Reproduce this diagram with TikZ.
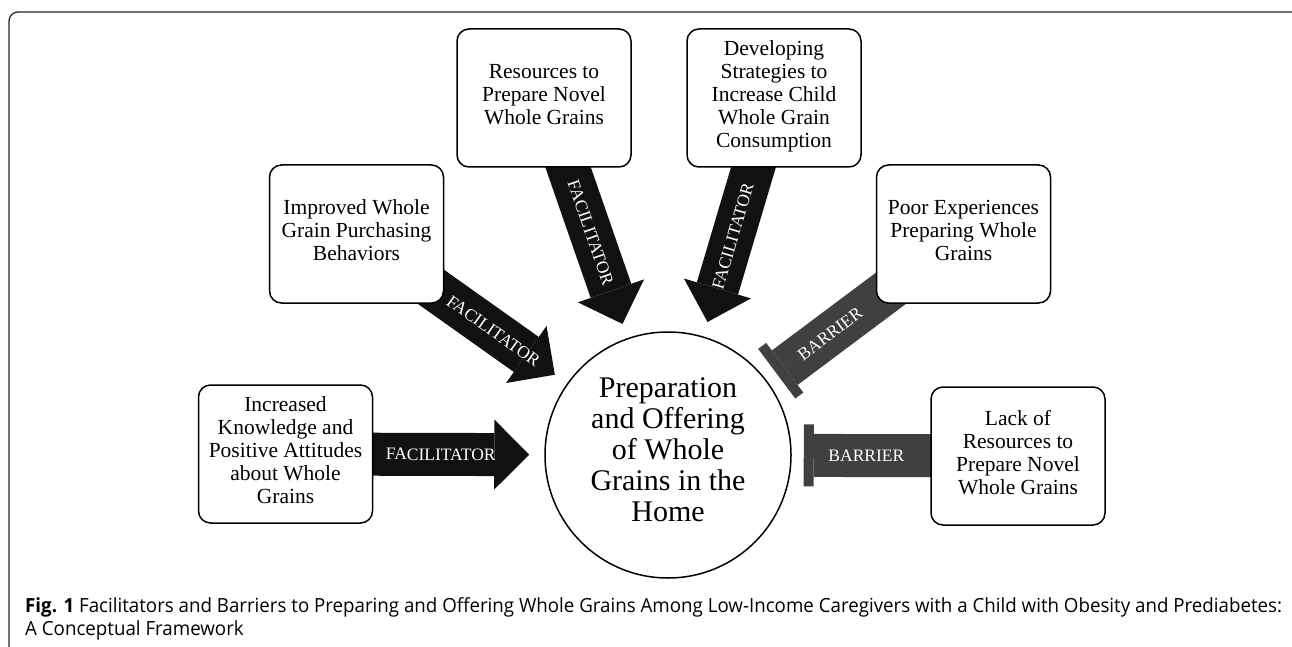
\documentclass[tikz,border=0pt]{standalone}
\usepackage{fontspec}
\setmainfont{Liberation Serif}
\newfontfamily\capfont[FakeStretch=0.96]{Open Sans}
\usetikzlibrary{calc, positioning}
\usetikzlibrary{arrows.meta}
\definecolor{faccol}{HTML}{111111}
\definecolor{barcol}{HTML}{404040}
\pgfdeclarelayer{back}
\pgfsetlayers{back,main}
\tikzset{
  factor/.style={draw, line width=1.5pt, rounded corners=12pt, fill=white,
    minimum width=174pt, minimum height=138pt, inner sep=2pt, align=center,
    text depth=8pt, font=\fontsize{21.5}{23}\selectfont},
  hub/.style={draw, circle, line width=1.5pt, fill=white, minimum size=246pt,
    inner sep=0pt, align=center, text depth=10pt, font=\fontsize{30}{31}\selectfont},
  facil/.style={draw=faccol, line width=43pt,
    -{Triangle[length=35pt, width=70pt, line width=0pt]}, shorten >=15pt},
  barrier/.style={draw=barcol, line width=43pt,
    -{Rectangle[length=10pt, width=62pt, line width=0pt]}, shorten >=12pt},
  tag/.style={text=white, sloped, inner sep=0pt, font=\fontsize{17.5}{18}\selectfont},
  caption/.style={anchor=base west, inner sep=0pt, font=\capfont\fontsize{19.5}{23}\selectfont}
}

\begin{document}
\begin{tikzpicture}[x=1pt, y=-1pt]
\clip (0,0) rectangle (1292,647);
\draw[line width=1.3pt, black!85, rounded corners=9pt] (9,12) rectangle (1320,700);

\node[hub] (hub) at (668,455) {Preparation\\and Offering\\of Whole\\Grains in the\\Home};

\node[factor] (incr) at (285.5,454) {Increased\\Knowledge and\\Positive Attitudes\\about Whole\\Grains};
\node[factor] (impr) at (356.5,234) {Improved Whole\\Grain Purchasing\\Behaviors};
\node[factor] (res)  at (544,98)    {Resources to\\Prepare Novel\\Whole Grains};
\node[factor] (dev)  at (774,98)    {Developing\\Strategies to\\Increase Child\\Whole Grain\\Consumption};
\node[factor] (poor) at (963.5,234) {Poor Experiences\\Preparing Whole\\Grains};
\node[factor] (lack) at (1018,456)  {Lack of\\Resources to\\Prepare Novel\\Whole Grains};

\begin{pgfonlayer}{back}
\draw[facil] (incr.center) -- (hub) node[tag, pos=0.6]  {FACILITATOR};
\draw[facil] (impr.center) -- (hub) node[tag, pos=0.65] {FACILITATOR};
\draw[facil] (res.center)  -- (hub) node[tag, pos=0.56] {FACILITATOR};
\draw[facil] (dev.center)  -- (hub) node[tag, pos=0.58] {FACILITATOR};
\draw[barrier] (poor.center) -- (hub) node[tag, pos=0.68] {BARRIER};
\draw[barrier] (lack.center) -- (hub) node[tag, pos=0.67] {BARRIER};
\end{pgfonlayer}

\node[caption] (cap1) at (25,612)
  {\textbf{Fig. 1} Facilitators and Barriers to Preparing and Offering Whole Grains Among Low-Income Caregivers with a Child with Obesity and Prediabetes:};
\node[caption] (cap2) at (25,635) {A Conceptual Framework};
\end{tikzpicture}
\end{document}
